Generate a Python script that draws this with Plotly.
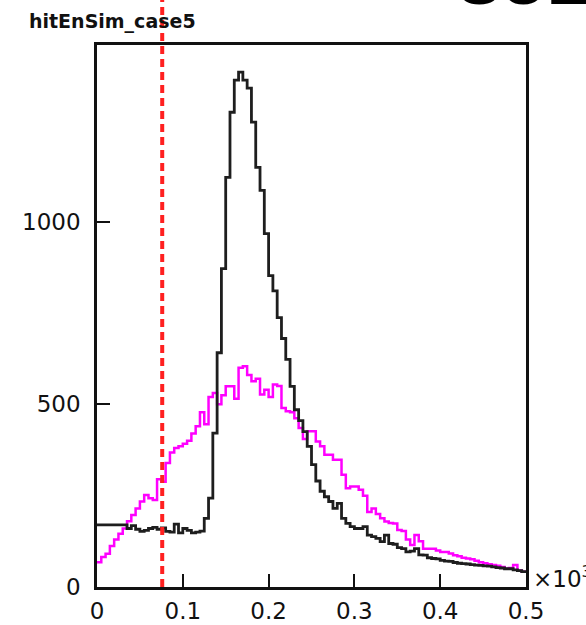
import numpy as np
import plotly.graph_objects as go

# ---- data ----
bin_width = 0.005
x_low = 0.0
black_counts = [
    170, 170, 170, 170, 170, 170, 170, 160, 168, 158,
    152, 155, 160, 163, 158, 162, 152, 150, 172, 148,
    160, 155, 148, 150, 153, 188, 243, 421, 641, 871,
    1121, 1299, 1387, 1409, 1387, 1365, 1272, 1148, 1085, 967,
    852, 810, 737, 680, 623, 549, 485, 455, 425, 385,
    335, 290, 262, 247, 234, 215, 229, 188, 174, 165,
    160, 160, 165, 142, 138, 133, 124, 142, 119, 117,
    108, 105, 96, 98, 105, 88, 87, 80, 78, 77,
    73, 71, 70, 67, 65, 64, 63, 61, 60, 59,
    58, 57, 55, 53, 52, 50, 50, 47, 45, 42,
]
magenta_counts = [
    68, 82, 91, 112, 130, 146, 160, 180, 197, 215,
    234, 252, 243, 238, 295, 288, 339, 368, 380, 385,
    392, 400, 420, 440, 478, 445, 520, 531, 500, 525,
    549, 549, 515, 600, 604, 580, 563, 570, 527, 540,
    520, 554, 550, 490, 481, 478, 462, 435, 405, 426,
    426, 398, 385, 362, 362, 348, 348, 307, 270, 275,
    275, 266, 250, 205, 215, 200, 188, 179, 175, 174,
    156, 153, 130, 115, 142, 125, 105, 105, 105, 100,
    96, 96, 92, 87, 84, 80, 78, 76, 72, 68,
    65, 62, 60, 58, 55, 50, 52, 60, 45, 42,
]
cut_value = 0.076
x_ticks = [0, 0.1, 0.2, 0.3, 0.4, 0.5]
x_labels = ["0", "0.1", "0.2", "0.3", "0.4", "0.5"]
y_ticks = [0, 500, 1000]
y_labels = ["0", "500", "1000"]
title_text = "hitEnSim_case5"
exp_text = "×10<sup>3</sup>"
corner_text = "SUE"

# ---- build ----
nb = len(black_counts)
edges = x_low + bin_width * np.arange(nb + 1)

def step_y(c):
    return list(c) + [c[-1]]

fig = go.Figure()
fig.add_trace(go.Scatter(x=edges, y=step_y(magenta_counts), mode="lines",
                         line=dict(color="#ff00ff", width=2.5, shape="hv"),
                         hoverinfo="skip", showlegend=False))
fig.add_trace(go.Scatter(x=edges, y=step_y(black_counts), mode="lines",
                         line=dict(color="#1e1e1e", width=2.8, shape="hv"),
                         hoverinfo="skip", showlegend=False))

W, H = 586, 625
L, R, T, B = 96.5, 526, 45, 587
pw, ph = R - L, B - T

fig.add_shape(type="line", xref="x", yref="paper", x0=cut_value, x1=cut_value,
              y0=0, y1=B / ph, line=dict(color="#ff2020", width=4, dash="8px,5px"))

font = dict(family="DejaVu Sans", size=23, color="#111")
fig.update_layout(
    width=W, height=H,
    margin=dict(l=L, r=W - R, t=T, b=H - B, pad=0, autoexpand=False),
    paper_bgcolor="white", plot_bgcolor="white",
    showlegend=False,
    title=dict(text="<b>" + title_text + "</b>", x=29 / W, xanchor="left",
               y=1 - 21 / H, yanchor="middle",
               font=dict(family="DejaVu Sans", size=19, color="#111")),
    xaxis=dict(range=[0, 0.5], tickvals=x_ticks, ticktext=x_labels,
               ticks="inside", ticklen=13, tickwidth=2, tickcolor="#111",
               showline=True, linecolor="#111", linewidth=3, mirror=True,
               showgrid=False, zeroline=False, tickfont=font,
               ticklabelstandoff=1, automargin=False),
    yaxis=dict(range=[0, 1483], tickvals=y_ticks, ticktext=y_labels,
               ticks="inside", ticklen=13, tickwidth=2, tickcolor="#111",
               showline=True, linecolor="#111", linewidth=2.5, mirror=True,
               showgrid=False, zeroline=False, tickfont=font,
               ticklabelstandoff=9, automargin=False),
)
fig.add_annotation(text=exp_text, xref="paper", yref="paper",
                   x=(531 - L) / pw, y=(B - 577) / ph, xanchor="left", yanchor="middle",
                   showarrow=False, font=font)
fig.add_annotation(text="<b>" + corner_text + "</b>", xref="paper", yref="paper",
                   x=(456 - L) / pw, y=(B - 20) / ph, xanchor="left", yanchor="bottom",
                   showarrow=False, font=dict(family="Liberation Sans", size=64, color="#000"))

fig.write_html("out.html")
